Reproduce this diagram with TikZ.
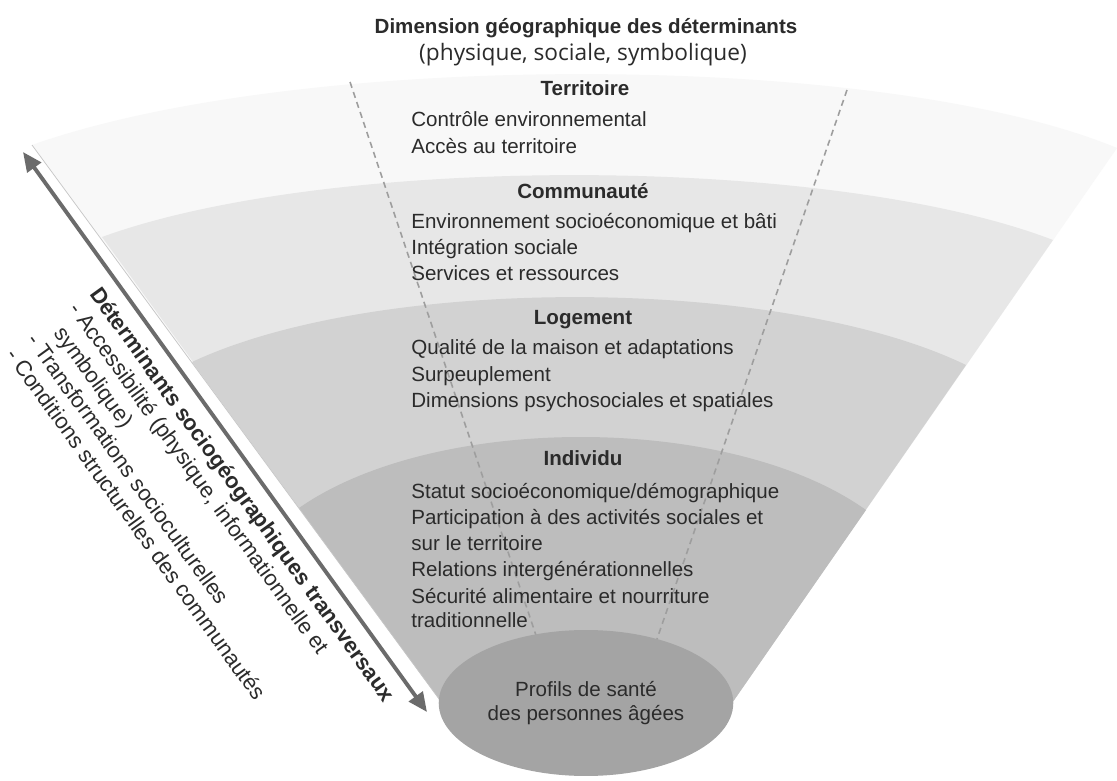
\documentclass[tikz,border=0pt]{standalone}
\usepackage{fontspec}
\setmainfont{Liberation Sans}
\newfontfamily\opensans{Open Sans}
\usetikzlibrary{shapes.geometric,arrows.meta}

\definecolor{bandeA}{gray}{0.972}
\definecolor{bandeB}{gray}{0.905}
\definecolor{bandeC}{gray}{0.825}
\definecolor{bandeD}{gray}{0.740}
\definecolor{noyau}{gray}{0.645}
\definecolor{encre}{gray}{0.17}
\definecolor{fleche}{gray}{0.42}
\definecolor{tirets}{gray}{0.62}

\begin{document}
\begin{tikzpicture}[x=0.02cm, y=-0.02cm,
	txt/.style={anchor=base west, inner sep=0pt, text=encre, font=\fontsize{11.7}{14.8}\selectfont},
	titre/.style={anchor=base, inner sep=0pt, text=encre, font=\fontsize{11.7}{14.8}\selectfont\bfseries},
	oblique/.style={anchor=base west, inner sep=0pt, text=encre, rotate=-54.2, font=\fontsize{12.5}{15}\selectfont},
	tiret/.style={tirets, line width=0.9pt, dash pattern=on 3.5pt off 2.5pt}]
		\useasboundingbox [fill=white] ( 0, 0 ) rectangle ( 1117, 781 );

		% bords de l'entonnoir
		\coordinate (g0) at ( 32, 145 );  \coordinate (d0) at ( 1117, 148 );
		\coordinate (g1) at ( 102, 237 ); \coordinate (d1) at ( 1053, 240 );
		\coordinate (g2) at ( 192, 362 ); \coordinate (d2) at ( 966, 365 );
		\coordinate (g3) at ( 299, 508 ); \coordinate (d3) at ( 866, 510 );
		\coordinate (g4) at ( 442, 703 ); \coordinate (d4) at ( 732, 703 );

		% bandes
		\fill [bandeA] (g0) .. controls ( 300, 50 ) and ( 880, 50 ) .. (d0) -- (d4) -- (g4) -- cycle;
		\fill [bandeB] (g1) .. controls ( 330, 154 ) and ( 829, 154 ) .. (d1) -- (d4) -- (g4) -- cycle;
		\fill [bandeC] (g2) .. controls ( 377, 275 ) and ( 780, 275 ) .. (d2) -- (d4) -- (g4) -- cycle;
		\fill [bandeD] (g3) .. controls ( 435, 413 ) and ( 730, 413 ) .. (d3) -- (d4) -- (g4) -- cycle;
		\draw [gray!45, line width=0.4pt] (g0) -- (g4);

		% lignes pointillees
		\coordinate (ht1) at ( 350, 82 ); \coordinate (bs1) at ( 546, 665 );
		\coordinate (ht2) at ( 847, 90 ); \coordinate (bs2) at ( 648, 665 );
		\draw [tiret] (ht1) -- (bs1);
		\draw [tiret] (ht2) -- (bs2);

		% noyau
		\node [ellipse, fill=noyau, minimum width=5.84cm, minimum height=2.92cm, align=center, text=encre,
			font=\fontsize{11.7}{13.8}\selectfont] (profil) at ( 586, 703 ) {Profils de santé\\des personnes âgées};

		% titre
		\node [titre] (dim1) at ( 586, 33 ) {Dimension géographique des déterminants};
		\node [anchor=base, inner sep=0pt, text=encre, font=\opensans\fontsize{12.9}{15}\selectfont] (dim2) at ( 583, 60 ) {(physique, sociale, symbolique)};

		% territoire
		\node [titre] (terr) at ( 585, 95 ) {Territoire};
		\node [txt] (terr1) at ( 411, 126 ) {Contrôle environnemental};
		\node [txt] (terr2) at ( 411, 153 ) {Accès au territoire};

		% communaute
		\node [titre] (comm) at ( 583, 198 ) {Communauté};
		\node [txt] (comm1) at ( 411, 228 ) {Environnement socioéconomique et bâti};
		\node [txt] (comm2) at ( 411, 254 ) {Intégration sociale};
		\node [txt] (comm3) at ( 411, 280 ) {Services et ressources};

		% logement
		\node [titre] (loge) at ( 583, 324 ) {Logement};
		\node [txt] (loge1) at ( 411, 354 ) {Qualité de la maison et adaptations};
		\node [txt] (loge2) at ( 411, 381 ) {Surpeuplement};
		\node [txt] (loge3) at ( 411, 407 ) {Dimensions psychosociales et spatiales};

		% individu
		\node [titre] (indi) at ( 583, 465 ) {Individu};
		\node [txt] (indi1) at ( 411, 498 ) {Statut socioéconomique/démographique};
		\node [txt] (indi2) at ( 411, 524 ) {Participation à des activités sociales et};
		\node [txt] (indi3) at ( 411, 550 ) {sur le territoire};
		\node [txt] (indi4) at ( 411, 576 ) {Relations intergénérationnelles};
		\node [txt] (indi5) at ( 411, 603 ) {Sécurité alimentaire et nourriture};
		\node [txt] (indi6) at ( 411, 627 ) {traditionnelle};

		% fleche et determinants transversaux
		\coordinate (fhaut) at ( 23, 152 );
		\coordinate (fbas) at ( 427, 712 );
		\draw [fleche, line width=2.2pt, {Triangle[length=11pt,width=9.5pt]}-{Triangle[length=11pt,width=9.5pt]}] (fhaut) -- (fbas);
		\node [oblique, font=\fontsize{12.5}{15}\selectfont\bfseries] (trans) at ( 89, 294 ) {Déterminants sociogéographiques transversaux};
		\node [oblique] (acc1) at ( 68, 309 ) {- Accessibilité (physique, informationnelle et};
		\node [oblique] (acc2) at ( 53, 333 ) {symbolique)};
		\node [oblique] (soc) at ( 26, 340 ) {- Transformations socioculturelles};
		\node [oblique] (cond) at ( 5, 355 ) {- Conditions structurelles des communautés};
\end{tikzpicture}
\end{document}
